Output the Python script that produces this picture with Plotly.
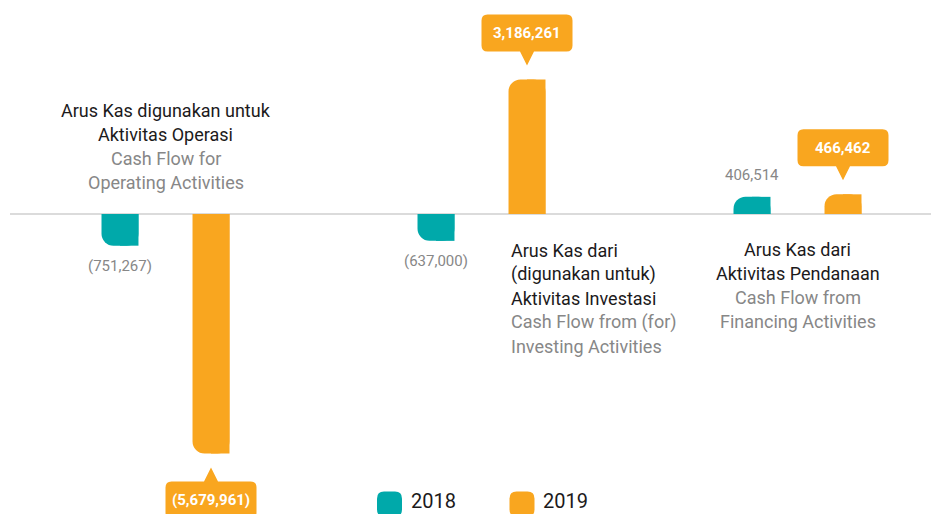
import plotly.graph_objects as go

## Donnees ------------------------------------------------------------------------------------------------

years = ["2018", "2019"]
groups = [0, 1, 2]
values_2018 = [-751267, -637000, 406514]
values_2019 = [-5679961, 3186261, 466462]

label_operasi = ["Arus Kas digunakan untuk", "Aktivitas Operasi", "Cash Flow for", "Operating Activities"]
label_investasi = ["Arus Kas dari", "(digunakan untuk)", "Aktivitas Investasi", "Cash Flow from (for)", "Investing Activities"]
label_pendanaan = ["Arus Kas dari", "Aktivitas Pendanaan", "Cash Flow from", "Financing Activities"]

teal = "#00a9aa"
orange = "#f9a61f"
dark = "#1c1a1b"
grey = "#878787"
font = "Roboto"

off = 0.144
bw = 0.117

# la page ajoute 8 px de marge autour du graphique
W, H, M = 931, 506, 8


def fmt(v):
    s = f"{abs(v):,}"
    return f"({s})" if v < 0 else s


def callout_path(w, h, r, gap, tri_h, tri_w, sign):
    # bulle arrondie + pointe, en pixels autour du point d'ancrage
    b = gap + tri_h
    t = b + h
    l, rr = -w / 2, w / 2
    pts = [("M", [(l + r, t)]), ("L", [(rr - r, t)]), ("Q", [(rr, t), (rr, t - r)]),
           ("L", [(rr, b + r)]), ("Q", [(rr, b), (rr - r, b)]), ("L", [(tri_w, b)]),
           ("L", [(0, gap)]), ("L", [(-tri_w, b)]), ("L", [(l + r, b)]),
           ("Q", [(l, b), (l, b + r)]), ("L", [(l, t - r)]), ("Q", [(l, t), (l + r, t)])]
    out = ""
    for cmd, p in pts:
        out += cmd + " ".join(f"{x:.1f},{sign * y:.1f}" for x, y in p) + " "
    return out + "Z"


def rounded_square(s, r):
    h = s / 2
    return (f"M{-h + r},{h} L{h - r},{h} Q{h},{h} {h},{h - r} L{h},{-h + r} Q{h},{-h} {h - r},{-h} "
            f"L{-h + r},{-h} Q{-h},{-h} {-h},{-h + r} L{-h},{h - r} Q{-h},{h} {-h + r},{h} Z")


## Figure -------------------------------------------------------------------------------------------------

fig = go.Figure()

for vals, sign, col in [(values_2018, -1, teal), (values_2019, 1, orange)]:
    xs = [g + sign * off for g in groups]
    fig.add_trace(go.Bar(x=xs, y=vals, width=bw, marker=dict(color=col, cornerradius=12, line_width=0),
                         showlegend=False, hoverinfo="skip"))
    # moitie droite sans arrondi : un seul coin arrondi
    fig.add_trace(go.Bar(x=[x + bw / 4 for x in xs], y=vals, width=bw / 2,
                         marker=dict(color=col, line_width=0), showlegend=False, hoverinfo="skip"))

fig.add_shape(type="line", xref="paper", yref="y", x0=2 / W, x1=1, y0=0, y1=0,
              line=dict(color="#cfcfcf", width=1.5), layer="below")

ann = []

# valeurs 2018 en gris
for g, v in zip(groups, values_2018):
    ann.append(dict(x=g - off, y=v, text=fmt(v), showarrow=False,
                    yanchor="top" if v < 0 else "bottom", yshift=-9 if v < 0 else 11,
                    font=dict(family=font, size=15, color=grey)))

# valeurs 2019 dans les bulles orange
for g, v in zip(groups, values_2019):
    s = 1 if v > 0 else -1
    fig.add_shape(type="path", xref="x", yref="y", xsizemode="pixel", ysizemode="pixel",
                  xanchor=g + off, yanchor=v, path=callout_path(91, 37, 6, 14, 14, 7, s),
                  fillcolor=orange, line_width=0)
    ann.append(dict(x=g + off, y=v, text=f"<b>{fmt(v)}</b>", showarrow=False, yanchor="middle",
                    yshift=s * 46.5, font=dict(family=font, size=15, color="white")))

# libelles des categories
fs = 18
for i, line in enumerate(label_operasi):
    ann.append(dict(x=0.0, y=0, text=line, showarrow=False, xanchor="center", yanchor="middle",
                    yshift=214 - (110 + 24 * i), font=dict(family=font, size=fs, color=dark if i < 2 else grey)))
for i, line in enumerate(label_investasi):
    ann.append(dict(x=1 + off - bw / 2, y=0, text=line, showarrow=False, xanchor="left", yanchor="middle",
                    yshift=214 - (250 + 24 * i), font=dict(family=font, size=fs, color=dark if i < 3 else grey)))
for i, line in enumerate(label_pendanaan):
    ann.append(dict(x=2.0, y=0, text=line, showarrow=False, xanchor="center", yanchor="middle",
                    yshift=214 - (249 + 24 * i), font=dict(family=font, size=fs, color=dark if i < 2 else grey)))

# legende
leg_y = 501
for year, col, px in zip(years, [teal, orange], [389.5, 522]):
    fig.add_shape(type="path", xref="paper", yref="paper", xsizemode="pixel", ysizemode="pixel",
                  xanchor=(px - M) / W, yanchor=1 - (leg_y + 3 - M) / H, path=rounded_square(25, 7),
                  fillcolor=col, line_width=0)
    ann.append(dict(xref="paper", yref="paper", x=(px + 19 - M) / W, y=1 - (leg_y - M) / H, text=year,
                    showarrow=False, xanchor="left", yanchor="middle",
                    font=dict(family=font, size=20, color=dark)))

fig.update_layout(
    width=W, height=H, margin=dict(l=0, r=0, t=0, b=0),
    barmode="overlay", plot_bgcolor="white", paper_bgcolor="white",
    annotations=ann,
    xaxis=dict(range=[-(165.5 - M) / 316, (W - (165.5 - M)) / 316], visible=False),
    yaxis=dict(range=[-(H - (214 - M)) / 42.18 * 1e6, (214 - M) / 42.18 * 1e6], visible=False),
)

fig.write_html("out.html")
